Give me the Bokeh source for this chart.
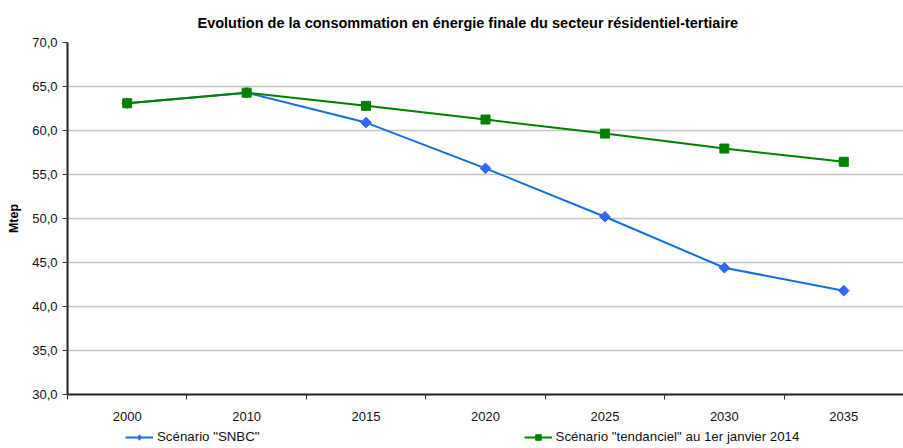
from bokeh.plotting import figure
from bokeh.layouts import column
from bokeh.models import FixedTicker, Legend, LegendItem, Range1d, CustomJSTickFormatter
from bokeh.embed import file_html
from bokeh.resources import INLINE

years = ["2000", "2010", "2015", "2020", "2025", "2030", "2035"]
snbc = [63.1, 64.3, 60.9, 55.7, 50.2, 44.4, 41.8]
tendanciel = [63.1, 64.3, 62.8, 61.25, 59.65, 57.95, 56.45]
y_ticks = [30, 35, 40, 45, 50, 55, 60, 65, 70]
labels = ['Scénario "SNBC"', 'Scénario "tendanciel" au 1er janvier 2014']

xpos = [i + 0.5 for i in range(len(years))]

FONT = "Liberation Sans"
BLUE_LINE = "#1170de"
BLUE_MARK = "#3366ff"
GREEN = "#008000"

p = figure(width=903, height=428, output_backend="svg", toolbar_location=None,
           x_range=Range1d(0, len(years)), y_range=Range1d(30, 70),
           min_border_left=67, min_border_right=0, min_border_top=42, min_border_bottom=34)
p.outline_line_color = None

p.title.text = "Evolution de la consommation en énergie finale du secteur résidentiel-tertiaire"
p.title.text_font = FONT
p.title.text_font_size = "14.5px"
p.title.text_font_style = "bold"
p.title.align = "left"
p.title.offset = 130
p.title.standoff = 24
p.title.text_color = "#000000"

# x axis
p.xaxis.ticker = FixedTicker(ticks=xpos, minor_ticks=list(range(len(years) + 1)))
p.xaxis.major_label_overrides = {x: y for x, y in zip(xpos, years)}
p.xaxis.major_tick_line_color = None
p.xaxis.minor_tick_out = 5
p.xaxis.minor_tick_in = 0
p.xaxis.minor_tick_line_color = "#333333"
p.xaxis.axis_line_color = "#222222"
p.xaxis.axis_line_width = 2
p.xaxis.major_label_text_font = FONT
p.xaxis.major_label_text_font_size = "13px"
p.xaxis.major_label_text_color = "#111111"
p.xaxis.major_label_standoff = 11
p.xgrid.grid_line_color = None

# y axis
p.yaxis.ticker = FixedTicker(ticks=y_ticks)
p.yaxis.formatter = CustomJSTickFormatter(code="return tick.toFixed(1).replace('.', ',');")
p.yaxis.minor_tick_line_color = None
p.yaxis.major_tick_out = 5
p.yaxis.major_tick_in = 0
p.yaxis.major_tick_line_color = "#333333"
p.yaxis.axis_line_color = "#222222"
p.yaxis.axis_line_width = 2
p.yaxis.major_label_text_font = FONT
p.yaxis.major_label_text_font_size = "13px"
p.yaxis.major_label_text_color = "#111111"
p.yaxis.major_label_standoff = 5
p.yaxis.axis_label = "Mtep"
p.yaxis.axis_label_text_font = FONT
p.yaxis.axis_label_text_font_size = "12.5px"
p.yaxis.axis_label_text_font_style = "bold"
p.yaxis.axis_label_text_color = "#000000"
p.yaxis.axis_label_standoff = 8
p.ygrid.grid_line_color = "#c4c4c4"
p.ygrid.grid_line_width = 1.5

p.line(xpos, snbc, line_color=BLUE_LINE, line_width=2)
p.scatter(xpos, snbc, marker="square", angle=0.785398, size=7.5,
          fill_color=BLUE_MARK, line_color=BLUE_MARK, line_width=1)
p.line(xpos, tendanciel, line_color=GREEN, line_width=2)
p.scatter(xpos, tendanciel, marker="square", size=9, fill_color=GREEN, line_color=GREEN)

# legend strip below the chart (its renderers use the same data, outside its visible range)
lg = figure(width=903, height=18, output_backend="svg", toolbar_location=None,
            x_axis_type=None, y_axis_type=None, x_range=Range1d(0, 1), y_range=Range1d(0, 1),
            min_border=0, min_border_left=0, min_border_right=0, min_border_top=0, min_border_bottom=0)
lg.outline_line_color = None
lg.grid.visible = False
lg.title.visible = False
b1 = lg.line(xpos, snbc, line_color=BLUE_LINE, line_width=2)
b2 = lg.scatter(xpos, snbc, marker="diamond", size=14,
                fill_color=BLUE_MARK, line_color=BLUE_MARK)
g1 = lg.line(xpos, tendanciel, line_color=GREEN, line_width=2)
g2 = lg.scatter(xpos, tendanciel, marker="square", size=9, fill_color=GREEN, line_color=GREEN)

legend = Legend(items=[
    LegendItem(label=labels[0], renderers=[b1, b2]),
    LegendItem(label=labels[1], renderers=[g1, g2]),
], orientation="horizontal", location=(58, 2), spacing=264, padding=0, margin=0,
    border_line_color=None, background_fill_alpha=0,
    label_text_font=FONT, label_text_font_size="13.3px", label_text_color="#111111",
    glyph_width=28, glyph_height=14, label_standoff=4, label_height=14)
lg.add_layout(legend, "center")

open("out.html", "w").write(file_html(column(p, lg, spacing=0), INLINE))
